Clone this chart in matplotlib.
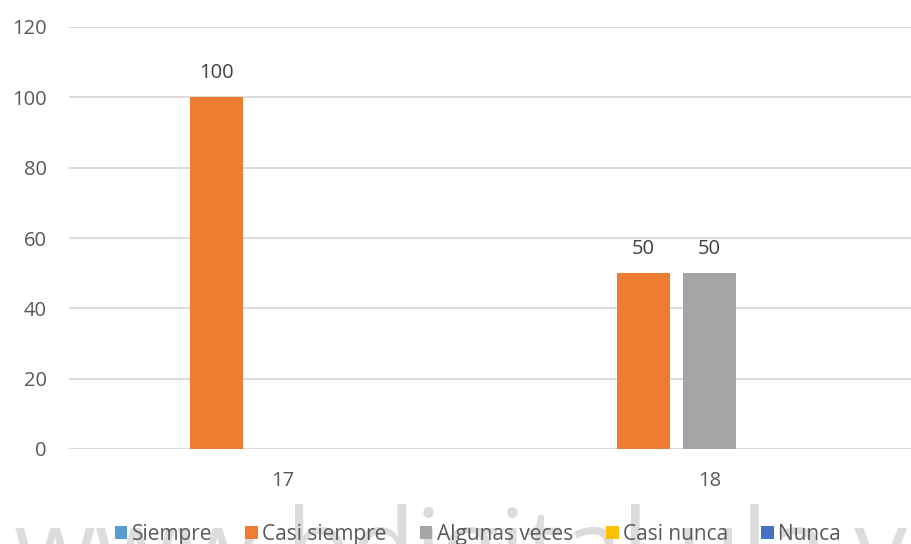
import numpy as np
import matplotlib.pyplot as plt

# categories and series values (percent)
categories = ["17", "18"]
series_names = ["Siempre", "Casi siempre", "Algunas veces", "Casi nunca", "Nunca"]
siempre = [0, 0]
casi_siempre = [100, 50]
algunas_veces = [0, 50]
casi_nunca = [0, 0]
nunca = [0, 0]
series_values = [siempre, casi_siempre, algunas_veces, casi_nunca, nunca]
colors = ["#5B9BD5", "#ED7D31", "#A5A5A5", "#FFC000", "#4472C4"]
yticks = [0, 20, 40, 60, 80, 100, 120]

plt.rcParams["font.family"] = ["Open Sans", "DejaVu Sans"]

fig = plt.figure(figsize=(9.12, 5.44), dpi=100)
ax = fig.add_axes([69 / 912, 95 / 544, 1 - 69 / 912, 422 / 544])

# watermark across the bottom
fig.text(0.015, -0.075, "www.bdigital.ula.ve", fontsize=76, color="#dcdcdc",
         ha="left", va="baseline", zorder=0)

x = np.arange(len(categories))
slot = 0.1546
width = 0.122
for i, (name, vals, c) in enumerate(zip(series_names, series_values, colors)):
    pos = x + (i - 2) * slot
    ax.bar(pos, vals, width, color=c, label=name, zorder=3)
    for p, v in zip(pos, vals):
        if v > 0:
            ax.text(p, v + 4, f"{v}", ha="center", va="bottom",
                    fontsize=14.5, color="#404040")

ax.set_xlim(-0.5, (912 - 69) / 427 - 0.5)
ax.set_ylim(0, 120)
ax.set_yticks(yticks)
ax.set_xticks(x)
ax.set_xticklabels(categories)
ax.tick_params(axis="both", length=0, labelsize=14.5, labelcolor="#595959")
ax.tick_params(axis="y", pad=16)
ax.tick_params(axis="x", pad=16)
ax.grid(axis="y", color="#d9d9d9", linewidth=1.3, zorder=0)
for s in ax.spines.values():
    s.set_visible(False)

leg = fig.legend(loc="center", bbox_to_anchor=(0.524, 0.018), ncol=5,
                 frameon=False, fontsize=15, handlelength=0.6, handleheight=0.6,
                 handletextpad=0.2, columnspacing=1.6)
for t in leg.get_texts():
    t.set_color("#595959")

fig.savefig("out.png", dpi=100)
